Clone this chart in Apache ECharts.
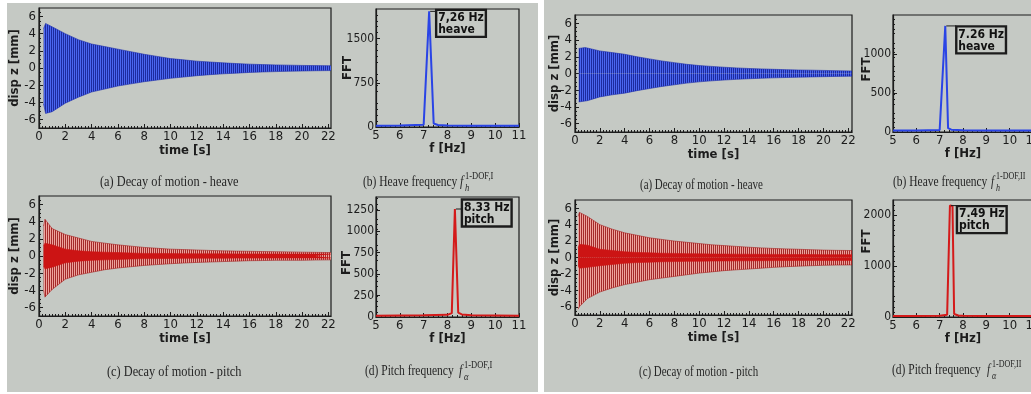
<!DOCTYPE html>
<html><head><meta charset="utf-8">
<script src="https://cdn.jsdelivr.net/npm/echarts@6/dist/echarts.min.js"></script>
<style>html,body{margin:0;padding:0;background:#fff;overflow:hidden}#c{width:1031px;height:394px}</style>
</head><body><div id="c"></div>
<script>
// ---------------- DATA ----------------
const timeTicks = [0,2,4,6,8,10,12,14,16,18,20,22];
const dispTicks = [-6,-4,-2,0,2,4,6];
const freqTicks = [5,6,7,8,9,10,11];
const fftTicksLB = [0,750,1500];
const fftTicksLD = [0,250,500,750,1000,1250];
const fftTicksRB = [0,500,1000];
const fftTicksRD = [0,1000,2000];

// (a) left – heave decay envelope
const tLA  = [0.35,0.5,1,2,3,4,5,6,7,8,9,10,11,12,13,14,15,16,17,18,19,20,21,22.2];
const upLA = [4.6,5.2,4.8,4.0,3.3,2.8,2.5,2.2,1.9,1.6,1.35,1.1,0.95,0.8,0.7,0.6,0.52,0.45,0.4,0.36,0.33,0.3,0.28,0.26];
const loLA = [-4.2,-5.3,-5.1,-4.1,-3.4,-2.8,-2.45,-2.1,-1.85,-1.6,-1.4,-1.2,-1.05,-0.9,-0.78,-0.68,-0.6,-0.52,-0.46,-0.42,-0.38,-0.35,-0.32,-0.3];
// (c) left – pitch decay envelope (outer and dense core)
const tLC  = [0.35,0.45,1,2,3,4,5,6,7,8,9,10,11,12,13,14,15,16,17,18,19,20,21,22.2];
const upLC = [3.5,4.3,3.2,2.5,2.1,1.7,1.5,1.3,1.15,1.0,0.9,0.8,0.75,0.7,0.65,0.6,0.57,0.55,0.52,0.5,0.48,0.45,0.43,0.4];
const loLC = [-4.0,-4.8,-3.9,-2.7,-2.2,-1.9,-1.6,-1.4,-1.25,-1.1,-1.0,-0.9,-0.82,-0.75,-0.7,-0.65,-0.6,-0.55,-0.53,-0.5,-0.5,-0.5,-0.47,-0.45];
const cupLC = [1.2,1.5,1.3,0.8,0.6,0.5,0.45,0.4,0.35,0.3,0.3,0.28,0.27,0.26,0.25,0.25,0.24,0.24,0.23,0.23,0.22,0.22,0.22,0.22];
const cloLC = [-1.2,-1.5,-1.3,-0.8,-0.6,-0.5,-0.45,-0.4,-0.35,-0.3,-0.3,-0.28,-0.27,-0.26,-0.25,-0.25,-0.24,-0.24,-0.23,-0.23,-0.22,-0.22,-0.22,-0.22];
// (a) right – heave decay envelope
const tRA  = [0.3,0.8,1,2,3,4,5,6,7,8,9,10,11,12,13,14,15,16,17,18,19,20,21,22.3];
const upRA = [3.0,3.1,3.05,2.7,2.5,2.3,2.0,1.75,1.5,1.3,1.1,0.95,0.85,0.75,0.67,0.6,0.55,0.5,0.46,0.42,0.4,0.37,0.34,0.3];
const loRA = [-3.4,-3.3,-3.25,-2.8,-2.55,-2.35,-2.05,-1.8,-1.55,-1.35,-1.15,-1.0,-0.88,-0.78,-0.7,-0.63,-0.57,-0.52,-0.48,-0.44,-0.41,-0.38,-0.35,-0.32];
// (c) right – pitch decay envelope (outer and dense core)
const tRC  = [0.25,0.35,1,2,3,4,5,6,7,8,9,10,11,12,13,14,15,16,17,18,19,20,21,22.3];
const upRC = [5.0,5.5,5.0,4.0,3.45,3.0,2.7,2.4,2.2,2.0,1.85,1.7,1.55,1.45,1.35,1.25,1.17,1.1,1.05,1.0,0.95,0.9,0.87,0.85];
const loRC = [-6.3,-6.0,-5.0,-4.2,-3.7,-3.3,-3.0,-2.7,-2.5,-2.3,-2.1,-1.9,-1.75,-1.6,-1.5,-1.4,-1.3,-1.2,-1.12,-1.05,-1.0,-0.95,-0.92,-0.9];
const cupRC = [1.2,1.6,1.5,1.0,0.85,0.7,0.62,0.57,0.52,0.5,0.47,0.45,0.43,0.42,0.41,0.4,0.39,0.38,0.37,0.36,0.36,0.35,0.35,0.35];
const cloRC = [-1.0,-1.3,-1.2,-1.0,-0.85,-0.7,-0.62,-0.57,-0.52,-0.5,-0.47,-0.45,-0.43,-0.42,-0.41,-0.4,-0.39,-0.38,-0.37,-0.36,-0.36,-0.35,-0.35,-0.35];

// FFT spectra
const freqLB = [5,6,7,7.23,7.29,7.42,7.6,8,9,10,11];
const fftLB  = [22,25,40,1960,1955,60,35,25,22,20,20];
const freqLD = [5,6,7,8,8.18,8.31,8.35,8.45,8.6,9,10,11];
const fftLD  = [15,18,20,25,45,1260,1255,50,30,20,18,15];
const freqRB = [5,6,7,7.08,7.24,7.28,7.36,7.5,8,9,10,11];
const fftRB  = [20,20,25,45,1360,1355,50,30,22,20,18,18];
const freqRD = [5,6,7,7.32,7.44,7.55,7.62,7.8,8,9,10,11];
const fftRD  = [20,20,25,45,2190,2180,60,30,25,20,18,18];

const peakTextLB = ['7,26 Hz','heave'];
const peakTextLD = ['8.33 Hz','pitch'];
const peakTextRB = ['7.26 Hz','heave'];
const peakTextRD = ['7.49 Hz','pitch'];

const capLA = '(a) Decay of motion - heave';
const capLB = '(b) Heave frequency';
const capLC = '(c) Decay of motion - pitch';
const capLD = '(d) Pitch frequency';
const supI = '1-DOF,I', supII = '1-DOF,II';
const subH = 'h', subA = 'α';

// ---------------- STYLE / LAYOUT ----------------
function hasFont(name){
  const c=document.createElement('canvas').getContext('2d');
  c.font='40px monospace'; const a=c.measureText('0123456789 time [s]').width;
  c.font='40px "'+name+'", monospace'; const b=c.measureText('0123456789 time [s]').width;
  return Math.abs(a-b)>0.5;
}
const SANS = hasFont('Liberation Sans Narrow') ? '"Liberation Sans Narrow", "Liberation Sans", sans-serif'
           : (hasFont('DejaVu Sans Condensed') ? '"DejaVu Sans Condensed", "Liberation Sans", sans-serif' : '"Liberation Sans", sans-serif');
const SERIF = '"Liberation Serif", "DejaVu Serif", serif';
const INK = '#1c1c1c';

function stripes(c1,c2,w1,w2){
  const cv=document.createElement('canvas'); cv.width=w1+w2; cv.height=4;
  const x=cv.getContext('2d'); x.fillStyle=c1; x.fillRect(0,0,w1,4); x.fillStyle=c2; x.fillRect(w1,0,w2,4);
  return {image:cv, repeat:'repeat'};
}
const bluePat = stripes('#4a66f0','#1d2a9e',1,1);
const redPat = stripes('#eea39c','#a42a2a',1,1);

const layouts = [
  {left:39, top:8, width:292, height:120},   // L-a
  {left:376, top:9, width:143, height:118},  // L-b
  {left:39, top:196, width:292, height:120}, // L-c
  {left:376, top:197, width:143, height:120},// L-d
  {left:575, top:15, width:277, height:117}, // R-a
  {left:893, top:15, width:140, height:117}, // R-b
  {left:575, top:200, width:277, height:115},// R-c
  {left:893, top:200, width:140, height:117} // R-d
];

const plain = v => String(v);
const tickLabel = {color:INK, fontFamily:SANS, fontSize:13, formatter:plain};
const nameStyle = {color:INK, fontFamily:SANS, fontSize:13, fontWeight:'bold'};
const axLine = {show:true, onZero:false, lineStyle:{color:INK, width:1.2}};

function timeX(g, tMax){
  return {gridIndex:g, type:'value', min:0, max:tMax, interval:2,
    axisLine:axLine, splitLine:{show:false},
    axisTick:{inside:true, length:4, customValues:timeTicks, lineStyle:{color:INK}},
    minorTick:{show:true, splitNumber:8, length:2, lineStyle:{color:INK}},
    axisLabel:Object.assign({margin:2, customValues:timeTicks}, tickLabel),
    name:'time [s]', nameLocation:'middle', nameGap:16, nameMoveOverlap:false, nameTextStyle:nameStyle};
}
function dispY(g, gap){
  return {gridIndex:g, type:'value', min:-7, max:7, splitNumber:7,
    axisLine:axLine, splitLine:{show:false},
    axisTick:{inside:true, length:4, customValues:dispTicks, lineStyle:{color:INK}},
    minorTick:{show:true, splitNumber:4, length:2, lineStyle:{color:INK}},
    axisLabel:Object.assign({margin:3, customValues:dispTicks}, tickLabel),
    name:'disp z [mm]', nameLocation:'middle', nameGap:gap, nameMoveOverlap:false, nameTextStyle:nameStyle};
}
function freqX(g){
  return {gridIndex:g, type:'value', min:5, max:11, interval:1,
    axisLine:axLine, splitLine:{show:false},
    axisTick:{inside:true, length:4, customValues:freqTicks, lineStyle:{color:INK}},
    minorTick:{show:true, splitNumber:5, length:2, lineStyle:{color:INK}},
    axisLabel:Object.assign({margin:2, customValues:freqTicks}, tickLabel),
    name:'f [Hz]', nameLocation:'middle', nameGap:15, nameMoveOverlap:false, nameTextStyle:nameStyle};
}
function fftY(g, max, ticks, gap, pad){
  return {gridIndex:g, type:'value', min:0, max:max,
    axisLine:axLine, splitLine:{show:false},
    axisTick:{inside:true, length:4, customValues:ticks, lineStyle:{color:INK}},
    minorTick:{show:true, splitNumber:5, length:2, lineStyle:{color:INK}},
    axisLabel:Object.assign({margin:2, customValues:ticks}, tickLabel, {fontSize:12}),
    name:'FFT', nameLocation:'middle', nameGap:gap, nameMoveOverlap:false,
    nameTextStyle:Object.assign({padding:pad}, nameStyle)};
}

function pairs(xs, ys){ return xs.map((x,i)=>[x, ys[i]]); }
function areaLine(g, t, v, fill, edge){
  return {type:'line', xAxisIndex:g, yAxisIndex:g, data:pairs(t,v), symbol:'none', silent:true,
    lineStyle:{width:0.6, color:edge}, areaStyle:{color:fill, opacity:1, origin:'auto'}, z:3};
}
function band(g, t, up, lo, fill, edge){
  return [areaLine(g,t,up,fill,edge), areaLine(g,t,lo,fill,edge)];
}
function fftSeries(g, f, v, color, text, lead, pos){
  let k = 0; v.forEach((y,i)=>{ if(y>v[k]) k=i; });
  return {type:'line', xAxisIndex:g, yAxisIndex:g, data:pairs(f,v), symbol:'none', silent:true,
    lineStyle:{width:2, color:color}, z:4,
    markPoint:{silent:true, animation:false,
      data:[{coord:[f[k], v[k]], symbol:'rect', symbolSize:[lead,1], symbolOffset:[lead/2+1,0],
        itemStyle:{color:INK},
        label:{show:true, position:pos, formatter:text.join('\n'),
          fontFamily:SANS, fontSize:12, fontWeight:'bold', lineHeight:12, color:'#111',
          borderColor:INK, borderWidth:1.2, padding:[2,2,1,2], backgroundColor:'rgba(0,0,0,0)'}}]}};
}

function caption(x, y, text, sx){
  return {type:'text', x:x, y:y, scaleX:sx, silent:true,
    style:{text:text, font:'14px '+SERIF, fill:'#262626', align:'left', verticalAlign:'middle'}};
}
function fsym(x, y, sup, sub, sx){
  return [
    {type:'text', x:x, y:y, scaleX:sx, silent:true, style:{text:'f', font:'italic 14px '+SERIF, fill:'#262626', align:'left', verticalAlign:'middle'}},
    {type:'text', x:x+5, y:y-6, scaleX:sx, silent:true, style:{text:sup, font:'10px '+SERIF, fill:'#262626', align:'left', verticalAlign:'middle'}},
    {type:'text', x:x+5, y:y+6, scaleX:sx, silent:true, style:{text:sub, font:'italic 10px '+SERIF, fill:'#262626', align:'left', verticalAlign:'middle'}}
  ];
}

const BG = '#c5c9c4';
const graphic = [
  {type:'rect', shape:{x:7,y:3,width:531,height:389}, style:{fill:BG}, z:-10, silent:true},
  {type:'rect', shape:{x:544,y:0,width:487,height:392}, style:{fill:BG}, z:-10, silent:true},
  caption(100, 182, capLA, 0.88),
  caption(363, 182, capLB, 0.82), ...fsym(460, 182, supI, subH, 0.85),
  caption(107, 372, capLC, 0.88),
  caption(365, 371, capLD, 0.82), ...fsym(459, 371, supI, subA, 0.85),
  caption(640, 185, capLA, 0.78),
  caption(893, 182, capLB, 0.82), ...fsym(991, 182, supII, subH, 0.8),
  caption(892, 370, capLD, 0.82), ...fsym(987, 370, supII, subA, 0.8),
  caption(639, 372, capLC, 0.78)
];

const option = {
  backgroundColor:'#ffffff',
  animation:false,
  graphic: graphic,
  grid: layouts.map(l=>Object.assign({show:true, borderColor:INK, borderWidth:1.2, backgroundColor:'transparent', outerBoundsMode:'none', containLabel:false}, l)),
  xAxis: [timeX(0,22.2), freqX(1), timeX(2,22.2), freqX(3), timeX(4,22.3), freqX(5), timeX(6,22.3), freqX(7)],
  yAxis: [dispY(0,18), fftY(1,2000,fftTicksLB,22,0), dispY(2,18), fftY(3,1400,fftTicksLD,23,[0,12,0,0]),
          dispY(4,14), fftY(5,1500,fftTicksRB,20,[0,0,0,8]), dispY(6,14), fftY(7,2300,fftTicksRD,20,[0,0,0,34])],
  series: [
    ...band(0, tLA, upLA, loLA, bluePat, '#1f2fb0'),
    fftSeries(1, freqLB, fftLB, '#2a44e6', peakTextLB, 6, [6,-1]),
    ...band(2, tLC, upLC, loLC, redPat, '#a82222'),
    ...band(2, tLC, cupLC, cloLC, '#cc1414', '#cc1414'),
    fftSeries(3, freqLD, fftLD, '#d41a1a', peakTextLD, 6, [6,-9]),
    ...band(4, tRA, upRA, loRA, bluePat, '#1f2fb0'),
    fftSeries(5, freqRB, fftRB, '#2a44e6', peakTextRB, 10, [10,1]),
    ...band(6, tRC, upRC, loRC, redPat, '#a82222'),
    ...band(6, tRC, cupRC, cloRC, '#cc1414', '#cc1414'),
    fftSeries(7, freqRD, fftRD, '#d41a1a', peakTextRD, 6, [6,1])
  ]
};
const chart = echarts.init(document.getElementById('c'), null, {renderer:'canvas'});
chart.setOption(option);
</script>
</body></html>
